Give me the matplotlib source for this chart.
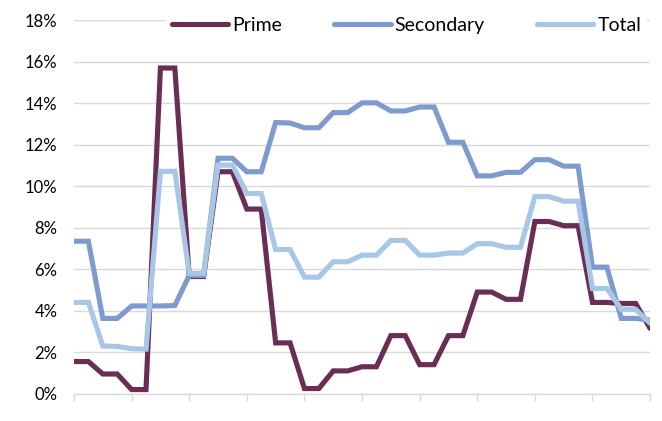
import numpy as np
import matplotlib
matplotlib.use('Agg')
import matplotlib.pyplot as plt
from matplotlib.ticker import MultipleLocator, FuncFormatter

plt.rcParams['font.family'] = ['Lato', 'DejaVu Sans']

# values in percent, one per period
prime = [1.55, 1.55, 0.95, 0.95, 0.2, 0.2, 15.7, 15.7, 5.65, 5.65,
         10.7, 10.7, 8.9, 8.9, 2.45, 2.45, 0.25, 0.25, 1.1, 1.1,
         1.3, 1.3, 2.8, 2.8, 1.4, 1.4, 2.8, 2.8, 4.9, 4.9,
         4.55, 4.55, 8.3, 8.3, 8.1, 8.1, 4.4, 4.4, 4.35, 4.35, 3.15]
secondary = [7.35, 7.35, 3.63, 3.63, 4.23, 4.23, 4.23, 4.25, 5.7, 5.7,
             11.35, 11.35, 10.7, 10.7, 13.07, 13.05, 12.82, 12.82, 13.55, 13.55,
             14.02, 14.02, 13.63, 13.63, 13.82, 13.82, 12.12, 12.12, 10.5, 10.5,
             10.67, 10.67, 11.28, 11.28, 10.97, 10.97, 6.1, 6.1, 3.63, 3.63, 3.55]
total = [4.4, 4.4, 2.3, 2.28, 2.17, 2.15, 10.72, 10.72, 5.8, 5.8,
         11.02, 11.02, 9.65, 9.65, 6.95, 6.95, 5.62, 5.62, 6.36, 6.36,
         6.68, 6.68, 7.39, 7.39, 6.68, 6.68, 6.78, 6.78, 7.23, 7.23,
         7.06, 7.06, 9.5, 9.5, 9.28, 9.28, 5.07, 5.07, 4.07, 4.07, 3.4]

x = np.arange(len(prime))

fig = plt.figure(figsize=(6.62, 4.21), dpi=100)
ax = fig.add_axes([0.1118, 0.0648, 0.8702, 0.887])

lw = 3.7
ax.plot(x, prime, color='#6A2E55', lw=lw, label='Prime', solid_joinstyle='miter', solid_capstyle='round')
ax.plot(x, secondary, color='#7F9BCE', lw=lw, label='Secondary', solid_joinstyle='miter', solid_capstyle='round')
ax.plot(x, total, color='#A8C6E6', lw=lw, label='Total', solid_joinstyle='miter', solid_capstyle='round')

ax.set_xlim(0, 40)
ax.set_ylim(0, 18)
ax.yaxis.set_major_locator(MultipleLocator(2))
ax.yaxis.set_major_formatter(FuncFormatter(lambda v, p: '%d%%' % v))
ax.set_xticks(np.arange(0, 41, 4))
ax.set_xticklabels([])

ax.grid(axis='y', color='#D9D9D9', lw=1.0)
ax.set_axisbelow(True)
for s in ['top', 'right', 'left']:
    ax.spines[s].set_visible(False)
ax.spines['bottom'].set_color('#D9D9D9')
ax.spines['bottom'].set_linewidth(1.0)
ax.tick_params(axis='x', direction='out', length=5, color='#D9D9D9', width=1.0)
ax.tick_params(axis='y', length=0, labelsize=12, pad=12, colors='black')

leg = ax.legend(loc='upper center', bbox_to_anchor=(0.577, 1.05), ncol=3,
                fontsize=14, frameon=True, facecolor='white', edgecolor='none',
                fancybox=False, handlelength=2.9, handletextpad=0.2,
                columnspacing=2.7, borderpad=0.3)
leg.get_frame().set_alpha(1.0)

fig.savefig('out.png', dpi=100)
